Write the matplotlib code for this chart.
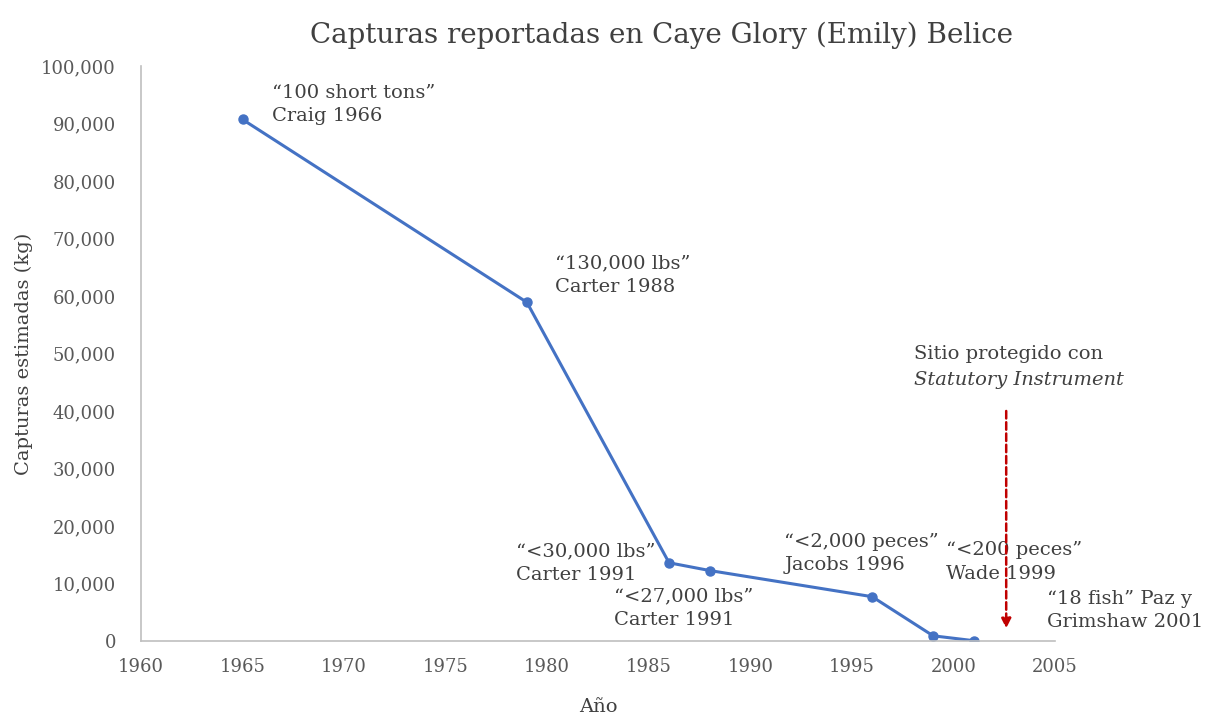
import matplotlib.pyplot as plt
from matplotlib.ticker import FuncFormatter

# data
years = [1965, 1979, 1986, 1988, 1996, 1999, 2001]
catch_kg = [90700, 58900, 13600, 12250, 7700, 900, 50]
labels = [
    "\u201c100 short tons\u201d\nCraig 1966",
    "\u201c130,000 lbs\u201d\nCarter 1988",
    "\u201c<30,000 lbs\u201d\nCarter 1991",
    "\u201c<27,000 lbs\u201d\nCarter 1991",
    "\u201c<2,000 peces\u201d\nJacobs 1996",
    "\u201c<200 peces\u201d\nWade 1999",
    "\u201c18 fish\u201d Paz y\nGrimshaw 2001",
]
protect_year = 2002.6
arrow_top = 40000
arrow_tip = 2200

# label offsets in pixels from each point (dx, dy, ha)
offsets = [(29, 15, "left"), (28, 27, "left"), (-14, 0, "right"),
           (-96, -38, "left"), (-88, 43, "left"), (13, 74, "left"),
           (73, 30, "left")]

plt.rcParams['font.family'] = ['DejaVu Serif']
txt = "#404040"
grey = "#595959"

fig = plt.figure(figsize=(12.08, 7.21), dpi=100)
ax = fig.add_axes([0.1167, 0.111, 0.7566, 0.7975])

ax.plot(years, catch_kg, color="#4472C4", lw=2.2, marker="o", ms=6.5)

for (x, y), lab, (dx, dy, ha) in zip(zip(years, catch_kg), labels, offsets):
    ax.annotate(lab, xy=(x, y), xytext=(dx, dy), textcoords="offset pixels",
                ha=ha, va="center", multialignment="left", fontsize=14,
                color=txt, linespacing=1.4)

ax.annotate("", xy=(protect_year, arrow_tip), xytext=(protect_year, arrow_top),
            arrowprops=dict(arrowstyle="-|>", color="#C00000", lw=1.8,
                            ls=(0, (3, 1.5)), mutation_scale=14,
                            shrinkA=0, shrinkB=0))
ax.annotate("Sitio protegido con", xy=(protect_year, arrow_top),
            xytext=(-92, 57), textcoords="offset pixels",
            ha="left", va="center", fontsize=14, color=txt)
ax.annotate("Statutory Instrument", xy=(protect_year, arrow_top),
            xytext=(-92, 31), textcoords="offset pixels",
            ha="left", va="center", fontsize=14, color=txt, style="italic")

ax.set_xlim(1960, 2005)
ax.set_ylim(0, 100000)
ax.set_xticks(range(1960, 2006, 5))
ax.set_yticks(range(0, 100001, 10000))
ax.yaxis.set_major_formatter(FuncFormatter(lambda v, p: f"{int(v):,}"))
ax.tick_params(length=0, labelsize=13, colors=grey)
ax.tick_params(axis="y", pad=18)
ax.tick_params(axis="x", pad=12)
for s in ["top", "right"]:
    ax.spines[s].set_visible(False)
for s in ["left", "bottom"]:
    ax.spines[s].set_color("#BFBFBF")
    ax.spines[s].set_linewidth(1.2)

ax.set_xlabel("Año", fontsize=14, color=txt, labelpad=16)
ax.set_ylabel("Capturas estimadas (kg)", fontsize=14, color=txt, labelpad=6)
fig.suptitle("Capturas reportadas en Caye Glory (Emily) Belice", fontsize=20,
             color=txt, x=0.548, y=0.97)

fig.savefig("out.png", dpi=100)
